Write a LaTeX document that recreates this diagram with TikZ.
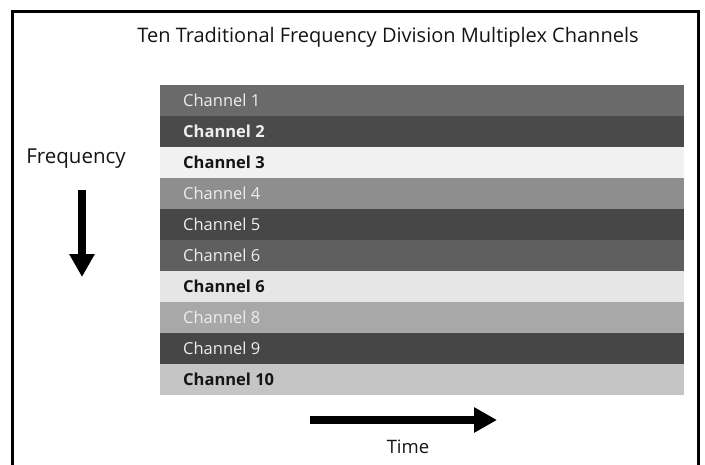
\documentclass[tikz,border=0pt]{standalone}
\usepackage{fontspec}
\setmainfont{Open Sans}
\usepackage{xcolor}
\usepackage{tikz}
\usetikzlibrary{positioning, arrows.meta, calc}
\definecolor{frameline}{HTML}{000000}
\definecolor{chA}{HTML}{6A6A6A}
\definecolor{chB}{HTML}{4A4A4A}
\definecolor{chC}{HTML}{F1F1F1}
\definecolor{chD}{HTML}{8E8E8E}
\definecolor{chE}{HTML}{474747}
\definecolor{chF}{HTML}{5F5F5F}
\definecolor{chG}{HTML}{E6E6E6}
\definecolor{chH}{HTML}{A8A8A8}
\definecolor{chI}{HTML}{464646}
\definecolor{chJ}{HTML}{C5C5C5}
\definecolor{lighttext}{HTML}{EEEEEE}
\definecolor{darktext}{HTML}{151515}
\tikzset{
  chanbar/.style={
    draw=none,
    minimum width=524pt,
    minimum height=31pt,
    inner sep=0pt,
    outer sep=0pt,
    anchor=north west
  },
  chanlabel/.style={
    anchor=west,
    inner sep=0pt,
    font=\fontsize{16.5}{19}\selectfont
  },
  axislabel/.style={
    text=darktext,
    inner sep=0pt
  },
  bigarrow/.style={
    line width=7.5pt,
    -{Triangle[length=23pt, width=24pt]}
  }
}

\begin{document}
\begin{tikzpicture}[x=1pt, y=-1pt]
  \useasboundingbox (0,0) rectangle (705,464);
  \fill[white] (0,0) rectangle (705,464);
  % outer frame, open at the bottom
  \draw[frameline, line width=3pt] (12.5,475) -- (12.5,11.5) -- (698.5,11.5) -- (698.5,475);

  \node[axislabel, font=\fontsize{20}{23}\selectfont] (title) at (388,37)
    {Ten Traditional Frequency Division Multiplex Channels};

  % the ten channel bars
  \foreach \i/\col/\txt/\name/\fnt in {
      1/chA/lighttext/Channel 1/\mdseries,
      2/chB/lighttext/Channel 2/\bfseries,
      3/chC/darktext/Channel 3/\bfseries,
      4/chD/lighttext/Channel 4/\mdseries,
      5/chE/lighttext/Channel 5/\mdseries,
      6/chF/lighttext/Channel 6/\mdseries,
      7/chG/darktext/Channel 6/\bfseries,
      8/chH/lighttext/Channel 8/\mdseries,
      9/chI/lighttext/Channel 9/\mdseries,
      10/chJ/darktext/Channel 10/\bfseries} {
    \node[chanbar, fill=\col] (ch\i) at (160,{85+31*(\i-1)}) {};
    \node[chanlabel, text=\txt] (lab\i) at ($(ch\i.west)+(23,0)$) {\fnt\name};
  }

  \node[axislabel, font=\fontsize{20.5}{23}\selectfont] (freq) at (76,159) {Frequency};
  \coordinate (fstart) at (82,190);
  \coordinate (fend) at (82,277);
  \draw[bigarrow] (fstart) -- (fend);

  \coordinate (tstart) at (310,420);
  \coordinate (tend) at (497,420);
  \draw[bigarrow] (tstart) -- (tend);
  \node[axislabel, font=\fontsize{18.5}{21}\selectfont] (time) at (408,447) {Time};
\end{tikzpicture}
\end{document}
